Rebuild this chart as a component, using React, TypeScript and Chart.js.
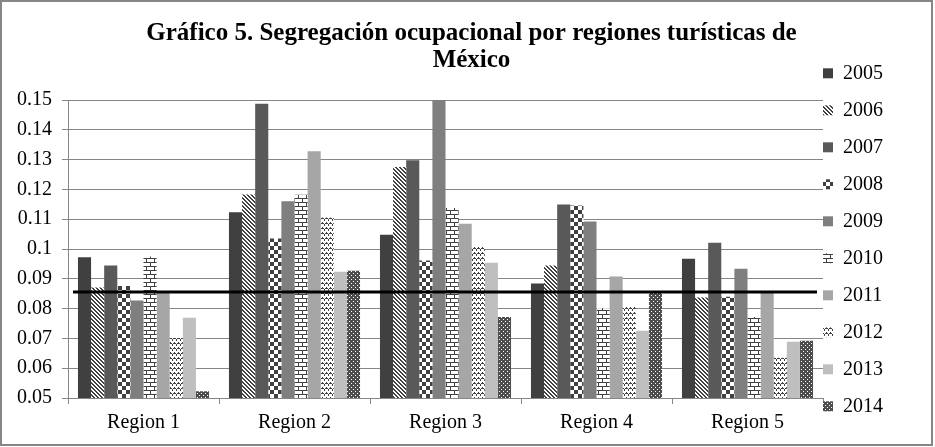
import { useEffect, useRef } from 'react';
import { Chart, registerables } from 'chart.js';

Chart.register(...registerables);

const categories = ['Region 1', 'Region 2', 'Region 3', 'Region 4', 'Region 5'];
const years = ['2005', '2006', '2007', '2008', '2009', '2010', '2011', '2012', '2013', '2014'];

const v2005 = [0.0972, 0.1123, 0.1048, 0.0884, 0.0967];
const v2006 = [0.0871, 0.1183, 0.1275, 0.0945, 0.0837];
const v2007 = [0.0945, 0.1487, 0.1298, 0.1149, 0.1021];
const v2008 = [0.0876, 0.1035, 0.0961, 0.1146, 0.084];
const v2009 = [0.0827, 0.116, 0.15, 0.1092, 0.0934];
const v2010 = [0.0975, 0.1182, 0.1138, 0.0801, 0.0772];
const v2011 = [0.0855, 0.1328, 0.1085, 0.0908, 0.0853];
const v2012 = [0.0701, 0.1106, 0.1008, 0.0806, 0.0635];
const v2013 = [0.0769, 0.0924, 0.0954, 0.0726, 0.0689];
const v2014 = [0.0523, 0.0927, 0.0772, 0.0853, 0.0692];

const seriesValues = [v2005, v2006, v2007, v2008, v2009, v2010, v2011, v2012, v2013, v2014];

const referenceLevel = 0.0856;

const yMin = 0.05;
const yMax = 0.15;
const yStep = 0.01;

const titleLines = ['Gráfico 5. Segregación ocupacional por regiones turísticas de', 'México'];

type Cell = [number, number, number?, number?];

function makePattern(
  ctx: CanvasRenderingContext2D,
  w: number,
  h: number,
  bg: string,
  fg: string,
  cells: Cell[]
): CanvasPattern {
  const c = document.createElement('canvas');
  c.width = w;
  c.height = h;
  const g = c.getContext('2d')!;
  g.fillStyle = bg;
  g.fillRect(0, 0, w, h);
  g.fillStyle = fg;
  for (const [x, y, cw, ch] of cells) g.fillRect(x, y, cw ?? 1, ch ?? 1);
  return ctx.createPattern(c, 'repeat')!;
}

const referenceLine = {
  id: 'referenceLine',
  afterDatasetsDraw(chart: any) {
    const { ctx, chartArea, scales } = chart;
    const y = scales.y.getPixelForValue(referenceLevel);
    ctx.save();
    ctx.strokeStyle = '#000000';
    ctx.lineWidth = 3;
    ctx.beginPath();
    ctx.moveTo(chartArea.left + 5, y);
    ctx.lineTo(chartArea.right - 6, y);
    ctx.stroke();
    ctx.restore();
  },
};

const layoutTweaks = {
  id: 'layoutTweaks',
  afterLayout(chart: any) {
    const lg = chart.legend;
    if (lg) {
      const pad = lg.options.labels.padding;
      lg.left -= pad;
      lg.right -= pad;
    }
    const t = chart.titleBlock;
    if (t) {
      t.left = 5;
      t.right = chart.width + 5;
      t.width = chart.width;
    }
  },
};

export default function App() {
  const ref = useRef<HTMLCanvasElement>(null);

  useEffect(() => {
    document.body.style.margin = '0';
    const canvas = ref.current!;
    const ctx = canvas.getContext('2d')!;
    const dark = '#404040';
    const white = '#ffffff';

    const diag = makePattern(ctx, 4, 4, white, dark, [
      [0, 0], [1, 0], [1, 1], [2, 1], [2, 2], [3, 2], [3, 3], [0, 3],
    ]);
    const checker = makePattern(ctx, 8, 8, white, dark, [
      [0, 0, 4, 4], [4, 4, 4, 4],
    ]);
    const brick = makePattern(ctx, 8, 8, white, dark, [
      [0, 0, 8, 1], [0, 1, 1, 3], [0, 4, 8, 1], [4, 5, 1, 3],
    ]);
    const zigzag = makePattern(ctx, 4, 5, white, dark, [
      [0, 0], [1, 1], [2, 2], [3, 1], [0, 1], [2, 3],
    ]);
    const dots = makePattern(ctx, 4, 4, '#4d4d4d', white, [
      [1, 1], [3, 3],
    ]);

    const fills: (string | CanvasPattern)[] = [
      '#404040', diag, '#595959', checker, '#7f7f7f',
      brick, '#a6a6a6', zigzag, '#bfbfbf', dots,
    ];

    Chart.defaults.font.family = "'Liberation Serif', 'Times New Roman', serif";
    Chart.defaults.color = '#000000';

    const chart = new Chart(canvas, {
      type: 'bar',
      data: {
        labels: categories,
        datasets: years.map((yr, i) => ({
          label: yr,
          data: seriesValues[i],
          backgroundColor: fills[i] as any,
          borderWidth: 0,
          categoryPercentage: 0.868,
          barPercentage: 1.0,
        })),
      },
      options: {
        responsive: false,
        animation: false,
        layout: { padding: { left: 5, right: 21, top: 0, bottom: 0 } },
        plugins: {
          title: {
            display: true,
            text: titleLines,
            color: '#000000',
            font: { size: 25, weight: 'bold', lineHeight: 1.1 },
            padding: { top: 17.75, bottom: 25.25 },
          },
          legend: {
            display: true,
            position: 'right',
            align: 'center',
            labels: {
              boxWidth: 10,
              boxHeight: 10,
              padding: 17,
              color: '#000000',
              font: { size: 20 },
            },
            title: {
              display: true,
              text: ' ',
              font: { size: 10 },
              padding: { top: 21.6, bottom: 0 },
            },
          },
          tooltip: { enabled: false },
        },
        scales: {
          x: {
            grid: {
              display: true,
              drawOnChartArea: false,
              drawTicks: true,
              tickLength: 6,
              offset: true,
              color: '#868686',
            },
            border: { display: true, color: '#868686' },
            ticks: { padding: 7, color: '#000000', font: { size: 20 } },
            afterFit: (s: any) => {
              s.height += 2;
            },
          },
          y: {
            min: yMin,
            max: yMax,
            grid: { color: '#868686', tickLength: 6, drawTicks: true },
            border: { display: true, color: '#868686' },
            ticks: {
              stepSize: yStep,
              padding: 10,
              color: '#000000',
              font: { size: 20 },
              callback: (v: any) => String(Number(Number(v).toFixed(2))),
            },
          },
        },
      },
      plugins: [referenceLine, layoutTweaks],
    } as any);

    return () => chart.destroy();
  }, []);

  return (
    <div
      style={{
        position: 'absolute',
        left: 0,
        top: 0,
        width: 933,
        height: 446,
        boxSizing: 'border-box',
        border: '2px solid #868686',
        background: '#ffffff',
      }}
    >
      <canvas
        ref={ref}
        width={929}
        height={442}
        style={{ display: 'block', width: 929, height: 442 }}
      />
    </div>
  );
}
